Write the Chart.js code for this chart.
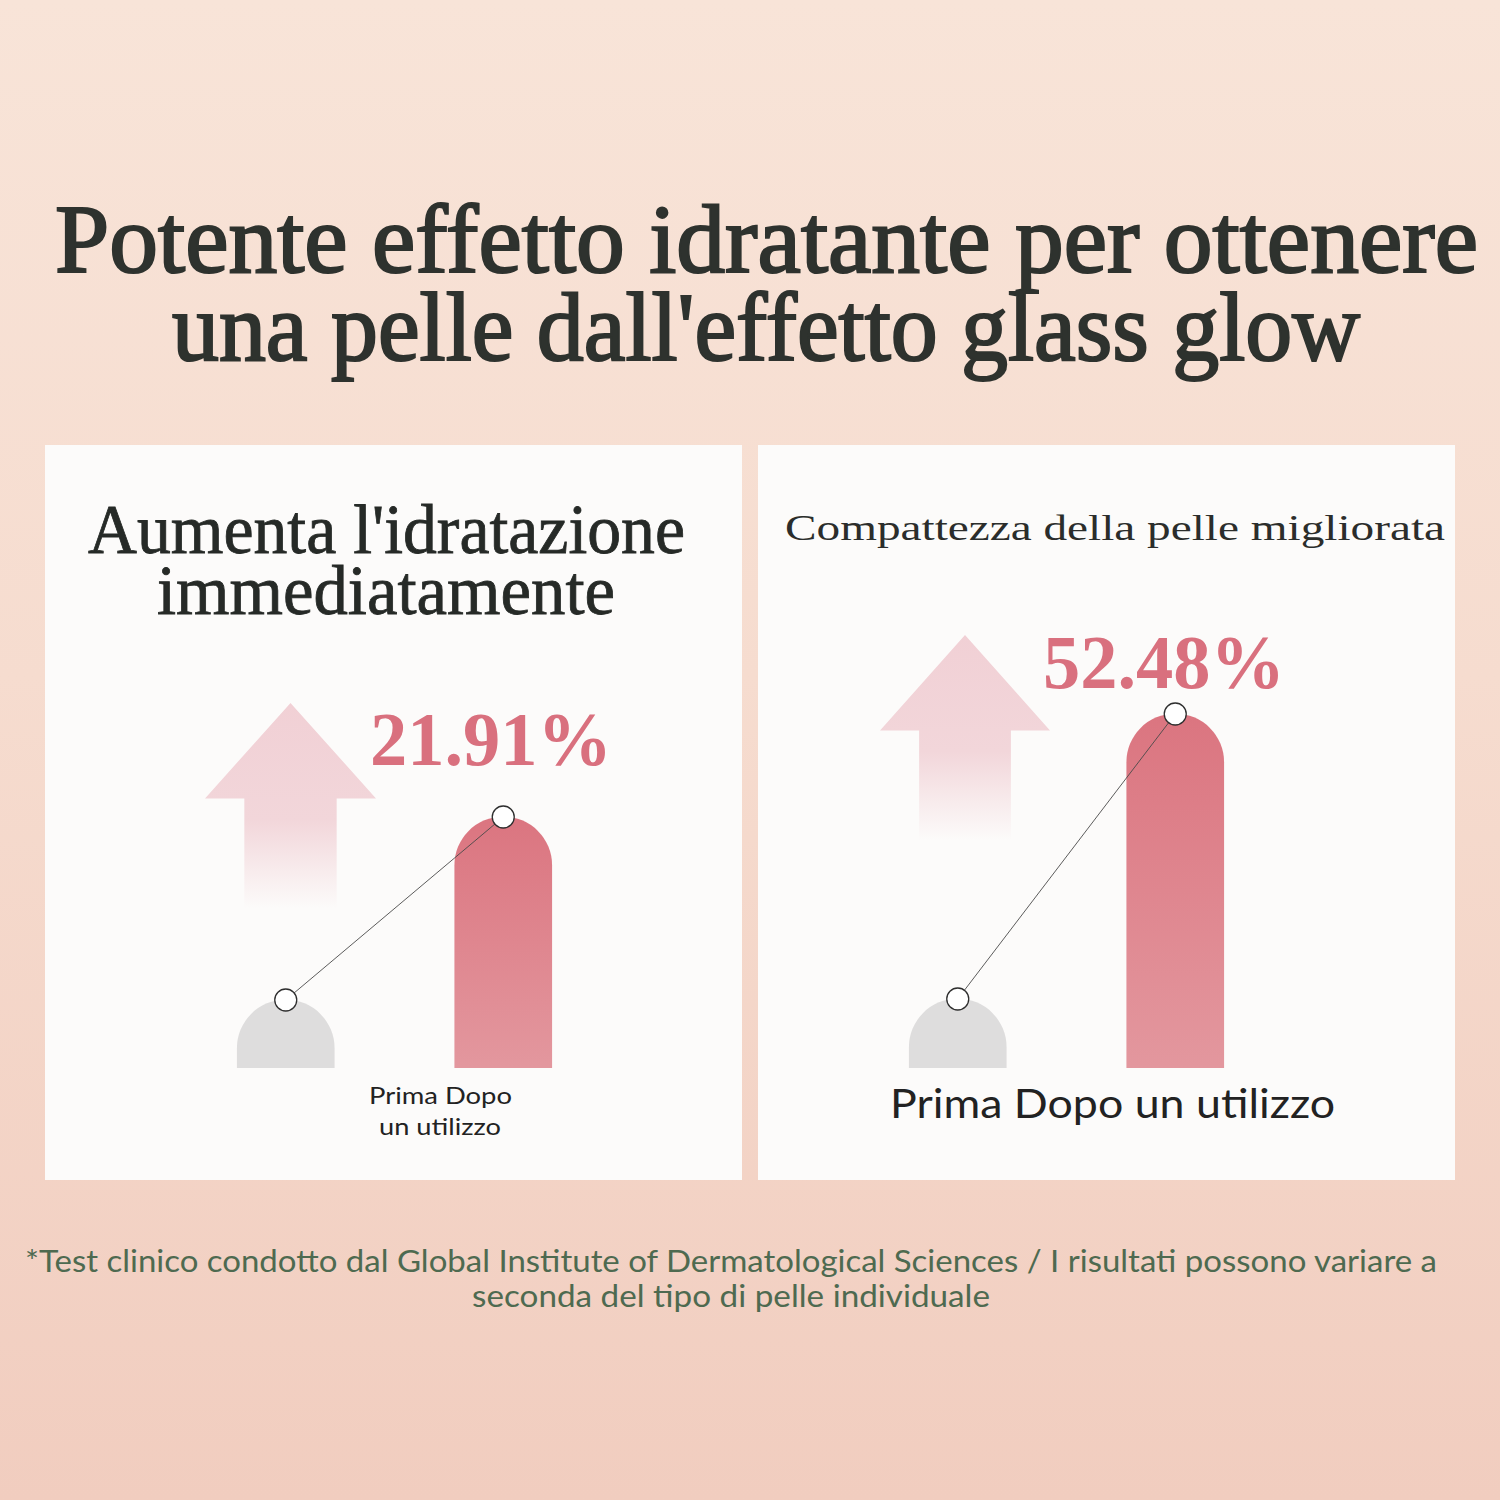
<!DOCTYPE html>
<html>
<head>
<meta charset="utf-8">
<script src="https://cdn.jsdelivr.net/npm/chart.js@4.4.1/dist/chart.umd.min.js"></script>
<style>
  html, body { margin: 0; padding: 0; }
  body {
    width: 1500px; height: 1500px; position: relative; overflow: hidden;
    background: linear-gradient(180deg, #f8e4d8 0%, #f6dccf 45%, #f1cdbf 100%);
  }
  .panel { position: absolute; top: 445px; width: 697px; height: 735px; background: #fcfbfa; }
  .txt { position: absolute; left: 0; top: 0; white-space: nowrap; transform-origin: 0 0; line-height: 1; }
  .tight { line-height: 0.8; }
  .serif { font-family: "Liberation Serif", "DejaVu Serif", serif; }
  .sans { font-family: Lato, "Open Sans", sans-serif; }
  .arrow {
    position: absolute;
    clip-path: polygon(50% 0%, 100% 45%, 77% 45%, 77% 100%, 23% 100%, 23% 45%, 0% 45%);
    background: linear-gradient(180deg, #f1d0d5 0%, #f2d6da 55%, rgba(252,251,250,0) 97%);
  }
  .plot { position: absolute; width: 435px; height: 400px; overflow: hidden; }
</style>
</head>
<body>
<div class="panel" style="left:45px"></div>
<div class="panel" style="left:758px"></div>

<div class="arrow" style="left:205px; top:703px; width:171px; height:212px"></div>
<div class="arrow" style="left:880px; top:635px; width:170px; height:212px"></div>

<div class="plot" style="left:177px; top:668px"><canvas id="idratazioneChart" width="435" height="460"></canvas></div>
<div class="plot" style="left:849px; top:668px"><canvas id="compattezzaChart" width="435" height="460"></canvas></div>

<div id="t1" class="txt tight serif" style="font-size:98px; color:#2e322e; -webkit-text-stroke:2.2px #2e322e">Potente effetto idratante per ottenere</div>
<div id="t2" class="txt tight serif" style="font-size:98px; color:#2e322e; -webkit-text-stroke:2.2px #2e322e">una pelle dall'effetto glass glow</div>
<div id="l1" class="txt tight serif" style="font-size:69px; color:#262a27; -webkit-text-stroke:0.8px #262a27">Aumenta l'idratazione</div>
<div id="l2" class="txt tight serif" style="font-size:69px; color:#262a27; -webkit-text-stroke:0.8px #262a27">immediatamente</div>
<div id="r1" class="txt serif" style="font-size:36px; color:#2b2d2b">Compattezza della pelle migliorata</div>
<div id="p1" class="txt tight serif" style="font-size:76px; font-weight:bold; color:#d9707e"></div>
<div id="p2" class="txt tight serif" style="font-size:76px; font-weight:bold; color:#d9707e"></div>
<div id="x1" class="txt sans" style="font-size:24px; color:#222"></div>
<div id="x2" class="txt sans" style="font-size:24px; color:#222"></div>
<div id="x3" class="txt sans" style="font-size:40px; color:#222"></div>
<div id="n1" class="txt sans" style="font-size:30px; color:#4e6a50">*Test clinico condotto dal Global Institute of Dermatological Sciences / I risultati possono variare a</div>
<div id="n2" class="txt sans" style="font-size:30px; color:#4e6a50">seconda del tipo di pelle individuale</div>

<script>
// dati del grafico (altezza delle barre, stessa scala per i due pannelli)
const categories = ['Prima', 'Dopo un utilizzo'];
const idratazioneValues = [68, 251];
const compattezzaValues = [69, 354];
const percentLabels = ['21.91%', '52.48%'];

// posiziona un testo dato il centro, la linea di base e la larghezza voluta
function place(id, cx, baseline, w) {
  const el = document.getElementById(id);
  const marker = document.createElement('span');
  marker.style.cssText = 'display:inline-block;width:0;height:0;';
  el.appendChild(marker);
  const r = el.getBoundingClientRect();
  const m = marker.getBoundingClientRect();
  const sx = w ? w / r.width : 1;
  el.style.left = (cx - r.width * sx / 2) + 'px';
  el.style.top = (baseline - (m.top - r.top)) + 'px';
  el.style.transform = 'scaleX(' + sx + ')';
}

function barColor(context) {
  if (context.dataIndex === 0) return '#dedddd';
  const chart = context.chart;
  if (!chart.chartArea) return '#df8590';
  const yScale = chart.scales.y;
  const top = yScale.getPixelForValue(context.raw);
  const bottom = yScale.getPixelForValue(0);
  const g = chart.ctx.createLinearGradient(0, top, 0, bottom);
  g.addColorStop(0, '#db7580');
  g.addColorStop(1, '#e3979e');
  return g;
}

function makeChart(canvasId, values) {
  const ctx = document.getElementById(canvasId).getContext('2d');
  return new Chart(ctx, {
    data: {
      labels: categories,
      datasets: [
        {
          type: 'line',
          label: 'andamento',
          data: values,
          order: 0,
          clip: false,
          borderColor: '#4a4a4a',
          borderWidth: 0.9,
          pointRadius: 11,
          pointHoverRadius: 11,
          pointBackgroundColor: '#ffffff',
          pointBorderColor: '#2e2e2e',
          pointBorderWidth: 1.3
        },
        {
          type: 'bar',
          label: 'valore',
          data: values,
          order: 1,
          base: -60,
          barThickness: 97,
          backgroundColor: barColor,
          borderSkipped: 'bottom',
          borderRadius: { topLeft: 49, topRight: 49, bottomLeft: 0, bottomRight: 0 }
        }
      ]
    },
    options: {
      responsive: false,
      animation: false,
      layout: { padding: 0, autoPadding: false },
      scales: {
        x: { display: false, offset: true },
        y: { display: false, min: -60, max: 400 }
      },
      plugins: {
        legend: { display: false },
        tooltip: { enabled: false }
      }
    }
  });
}

makeChart('idratazioneChart', idratazioneValues);
makeChart('compattezzaChart', compattezzaValues);

document.getElementById('p1').textContent = percentLabels[0];
document.getElementById('p2').textContent = percentLabels[1];
const words = (categories[0] + ' ' + categories[1]).split(' ');
document.getElementById('x1').textContent = words.slice(0, 2).join(' ');
document.getElementById('x2').textContent = words.slice(2).join(' ');
document.getElementById('x3').textContent = words.join(' ');

place('t1', 766, 272, 1423);
place('t2', 766, 360, 1188);
place('l1', 386, 553, 597);
place('l2', 386, 614, 458);
place('r1', 1115, 540, 660);
place('p1', 491, 765, 242);
place('p2', 1164, 688, 242);
place('x1', 440, 1104, 143);
place('x2', 440, 1135, 122);
place('x3', 1112, 1118, 445);
place('n1', 731, 1272, 1412);
place('n2', 731, 1307, 518);
</script>
</body>
</html>
